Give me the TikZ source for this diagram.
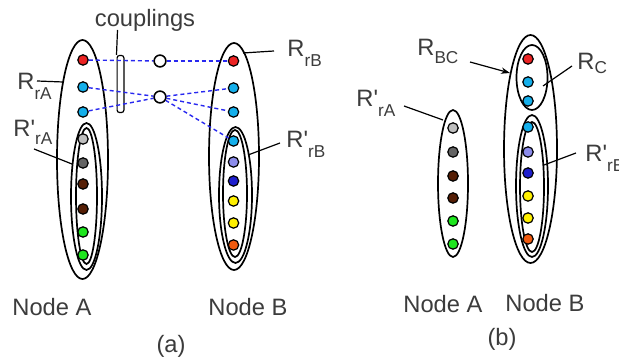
\documentclass[tikz,border=0pt]{standalone}
\usepackage{fontspec}
\newfontfamily\lsans{Liberation Sans}
\usetikzlibrary{shapes.geometric,arrows.meta}
\definecolor{txt}{RGB}{60,60,60}
\definecolor{cred}{RGB}{235,35,35}
\definecolor{ccyan}{RGB}{20,175,235}
\definecolor{clgray}{RGB}{190,190,190}
\definecolor{cdgray}{RGB}{100,100,100}
\definecolor{cbrown}{RGB}{85,30,5}
\definecolor{cgreen}{RGB}{30,230,30}
\definecolor{clav}{RGB}{140,140,235}
\definecolor{cblue}{RGB}{30,30,205}
\definecolor{cyel}{RGB}{255,240,0}
\definecolor{corange}{RGB}{240,90,15}
\definecolor{dashblue}{RGB}{40,40,240}
\newcommand\Rl[3]{R#1\raisebox{-#3}{\fontsize{8.6pt}{9pt}\selectfont #2}}
\tikzset{
  dot/.style={circle,draw=black,line width=0.6pt,minimum size=5.2pt,inner sep=0pt},
  ring/.style={ellipse,draw=black,line width=0.85pt,inner sep=0pt},
  coup/.style={circle,draw=black,fill=white,line width=0.7pt,minimum size=5.8pt,inner sep=0pt},
  link/.style={draw=dashblue,dash pattern=on 2pt off 1.5pt,line width=0.7pt},
  ptr/.style={draw=black,line width=0.6pt},
  lab/.style={font=\lsans\fontsize{11.85pt}{14pt}\selectfont,text=txt,inner sep=0pt}
}
\begin{document}
\begin{tikzpicture}[x=0.5pt,y=-0.5pt]
\useasboundingbox[fill=white] (0,0) rectangle (619,362);

% ---------- panel (a) ----------
% Node A rings
\node[ring,minimum width=25.5pt,minimum height=119.5pt] (aRA) at (82.5,159.5) {};
\node[ring,minimum width=15.5pt,minimum height=73.5pt] (aRpA) at (86.5,196.5) {};
\node[ring,minimum width=10.5pt,minimum height=68pt] (aRpAi) at (86.5,196) {};
% Node B rings
\node[ring,minimum width=25pt,minimum height=113.5pt] (aRB) at (234,156.5) {};
\node[ring,minimum width=16.5pt,minimum height=68pt] (aRpB) at (235.5,195) {};
\node[ring,minimum width=12pt,minimum height=63.5pt] (aRpBi) at (235,193.5) {};

% dots
\foreach \y/\c [count=\i] in {60/cred,87/ccyan,112/ccyan,139/clgray,163/cdgray,184/cbrown,209/cbrown,232/cgreen,255/cgreen}
  \node[dot,fill=\c] (aA\i) at (83,\y) {};
\foreach \y/\c [count=\i] in {61/cred,88/ccyan,112/ccyan,141/ccyan,162/clav,181/cblue,201/cyel,223/cyel,245/corange}
  \node[dot,fill=\c] (aB\i) at (233.5,\y) {};

% coupling bar
\node[draw=black,line width=0.6pt,rounded corners=1.2pt,minimum width=3.4pt,minimum height=28.5pt,inner sep=0pt] (bar) at (120.5,84) {};
\node[lab,anchor=base] (coupl) at (145,27) {couplings};
\coordinate (barTop) at (117.5,30);
\draw[ptr] (barTop) -- (bar.north west);

% coupling circles
\node[coup] (c1) at (160,61) {};
\node[coup] (c2) at (160,97) {};
\draw[link] (aA1) -- (c1);
\draw[link] (c1) -- (aB1);
\draw[link] (aA2) -- (c2);
\draw[link] (aA3) -- (c2);
\draw[link] (c2) -- (aB2);
\draw[link] (c2) -- (aB3);
\draw[link] (c2) -- (aB4);
\node[coup] at (c1) {};
\node[coup] at (c2) {};

% labels (a)
\node[lab,anchor=base west] (lRrA) at (17,90) {\Rl{}{rA}{5pt}};
\coordinate (pRrA1) at (37,81);
\coordinate (pRrA2) at (63,82);
\draw[ptr] (pRrA1) -- (pRrA2);
\node[lab,anchor=base west] (lRprA) at (13,137) {\Rl{'}{rA}{4pt}};
\coordinate (pRprA1) at (34,149);
\coordinate (pRprA2) at (72,164);
\draw[ptr] (pRprA1) -- (pRprA2);
\node[lab,anchor=base west] (lRrB) at (287,57) {\Rl{}{rB}{5pt}};
\coordinate (pRrB1) at (274,51);
\coordinate (pRrB2) at (243,53);
\draw[ptr] (pRrB1) -- (pRrB2);
\node[lab,anchor=base west] (lRprB) at (286,148) {\Rl{'}{rB}{5pt}};
\coordinate (pRprB1) at (280,143);
\coordinate (pRprB2) at (248,155);
\draw[ptr] (pRprB1) -- (pRprB2);

\node[lab,anchor=base west] (aNA) at (12,315) {Node A};
\node[lab,anchor=base west] (aNB) at (208,315) {Node B};
\node[lab,anchor=base] (capa) at (171,352) {(a)};

% ---------- panel (b) ----------
\node[ring,minimum width=15pt,minimum height=73.5pt] (bRpA) at (453,183.5) {};
\node[ring,minimum width=26.5pt,minimum height=114pt] (bRBC) at (530.5,149) {};
\node[ring,minimum width=15.5pt,minimum height=32.5pt] (bRC) at (532,77.5) {};
\node[ring,minimum width=16pt,minimum height=71pt] (bRpB) at (532,186) {};
\node[ring,minimum width=12pt,minimum height=65pt] (bRpBi) at (532,187) {};

\foreach \y/\c [count=\i] in {128/clgray,152/cdgray,176/cbrown,198/cbrown,221/cgreen,244/cgreen}
  \node[dot,fill=\c] (bA\i) at (453,\y) {};
\foreach \y/\c [count=\i] in {59/cred,82/ccyan,101/ccyan,127/ccyan,152/clav,173/cblue,196/cyel,218/cyel,239/corange}
  \node[dot,fill=\c] (bB\i) at (528,\y) {};

\node[lab,anchor=base west] (lRBC) at (417,56) {\Rl{}{BC}{4pt}};
\coordinate (pRBC1) at (470,62);
\coordinate (pRBC2) at (510,73);
\draw[ptr,-{Stealth[length=4.5pt,width=3.2pt]}] (pRBC1) -- (pRBC2);
\node[lab,anchor=base west] (lRC) at (577,70) {\Rl{}{C}{2pt}};
\coordinate (pRC1) at (572,66);
\coordinate (pRC2) at (543,86);
\draw[ptr] (pRC1) -- (pRC2);
\node[lab,anchor=base west] (lbRprA) at (356,107) {\Rl{'}{rA}{5pt}};
\coordinate (pbRprA1) at (404,106);
\coordinate (pbRprA2) at (443,120);
\draw[ptr] (pbRprA1) -- (pbRprA2);
\node[lab,anchor=base west] (lbRprB) at (585,162) {\Rl{'}{rB}{5pt}};
\coordinate (pbRprB1) at (576,153);
\coordinate (pbRprB2) at (544,165);
\draw[ptr] (pbRprB1) -- (pbRprB2);

\node[lab,anchor=base west] (bNA) at (403,313) {Node A};
\node[lab,anchor=base west] (bNB) at (505,312) {Node B};
\node[lab,anchor=base] (capb) at (502,345) {(b)};
\end{tikzpicture}
\end{document}
